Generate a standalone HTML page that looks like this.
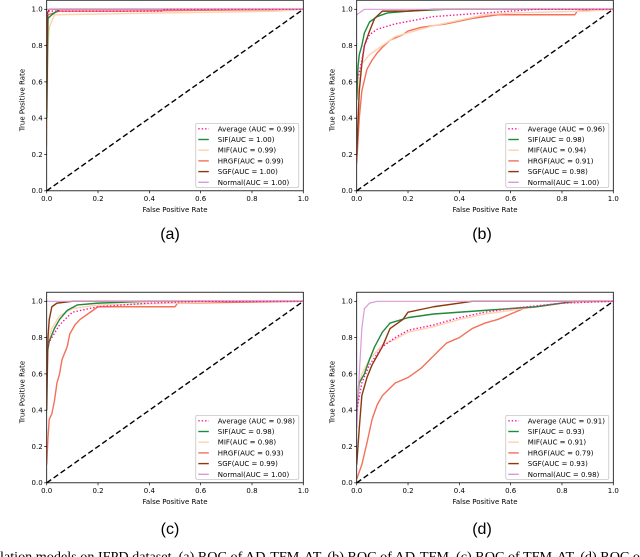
<!DOCTYPE html>
<html><head><meta charset="utf-8"><style>
html,body{margin:0;padding:0;background:#fff;width:640px;height:557px;overflow:hidden}
svg{display:block;font-family:"DejaVu Sans","Liberation Sans",sans-serif}
</style></head><body>
<svg id="fig" width="640" height="557" viewBox="0 0 640 557" xmlns="http://www.w3.org/2000/svg"></svg>
<script>
const seriesNames = ["Average","SIF","MIF","HRGF","SGF","Normal"];
const seriesColors = ["#ff1493","#1e8a3a","#ffd2b0","#f4705a","#8b3a0f","#d99ad9"];
const xTicks = [0,0.2,0.4,0.6,0.8,1.0];
const yTicks = [0,0.2,0.4,0.6,0.8,1.0];
const panelLabels = ["(a)","(b)","(c)","(d)"];
const aucA = [0.99,1.00,0.99,0.99,1.00,1.00];
const aucB = [0.96,0.98,0.94,0.91,0.98,1.00];
const aucC = [0.98,0.98,0.98,0.93,0.99,1.00];
const aucD = [0.91,0.93,0.91,0.79,0.93,0.98];
const aAvgX=[0,0.005,0.01,0.45,0.46,1], aAvgY=[0.95,0.98,0.99,0.99,1,1];
const aSifX=[0,0.005,0.02,0.05,1], aSifY=[0.4,0.95,0.97,1,1];
const aMifX=[0,0.005,0.01,0.03,0.9,1], aMifY=[0.25,0.8,0.9,0.97,0.99,1];
const aHrgX=[0,0.005,0.05,0.3,1], aHrgY=[0.4,0.97,0.99,0.99,1];
const aSgfX=[0,0.003,0.01,1], aSgfY=[0.43,0.98,1,1];
const aNorX=[0,1], aNorY=[1,1];
const bAvgX=[0,0.01,0.02,0.03,0.05,0.08,0.15,0.3,0.5,0.7,1], bAvgY=[0.6,0.65,0.72,0.8,0.86,0.89,0.92,0.96,0.98,1,1];
const bSifX=[0,0.005,0.01,0.02,0.03,0.05,0.08,0.12,0.2,0.35,1], bSifY=[0.5,0.68,0.75,0.8,0.87,0.93,0.96,0.98,0.99,1,1];
const bMifX=[0,0.01,0.02,0.05,0.1,0.15,0.2,0.3,0.4,0.5,0.6,0.9,1], bMifY=[0.5,0.6,0.7,0.75,0.8,0.85,0.87,0.91,0.94,0.97,0.98,0.99,1];
const bHrgX=[0,0.01,0.02,0.04,0.06,0.08,0.1,0.13,0.18,0.2,0.25,0.35,0.45,0.55,0.85,0.86,1], bHrgY=[0.15,0.4,0.55,0.67,0.72,0.76,0.79,0.83,0.86,0.88,0.9,0.92,0.95,0.97,0.97,0.99,1];
const bSgfX=[0,0.01,0.02,0.03,0.05,0.07,0.1,0.2,0.3,1], bSgfY=[0.2,0.55,0.7,0.8,0.88,0.95,0.99,0.99,1,1];
const bNorX=[0,0.01,0.03,1], bNorY=[0.97,0.98,1,1];
const cAvgX=[0,0.02,0.05,0.1,0.2,0.4,0.6,1], cAvgY=[0.75,0.8,0.87,0.94,0.97,0.99,1,1];
const cSifX=[0,0.01,0.03,0.05,0.08,0.12,0.2,0.4,1], cSifY=[0.7,0.78,0.85,0.9,0.95,0.98,0.99,1,1];
const cMifX=[0,0.02,0.05,0.1,0.2,0.5,0.7,1], cMifY=[0.75,0.85,0.92,0.96,0.98,0.99,1,1];
const cHrgX=[0,0.005,0.01,0.02,0.03,0.04,0.05,0.06,0.08,0.09,0.11,0.13,0.16,0.2,0.5,0.51,1], cHrgY=[0.1,0.25,0.35,0.38,0.45,0.55,0.6,0.68,0.75,0.82,0.87,0.9,0.93,0.97,0.97,0.99,1];
const cSgfX=[0,0.005,0.01,0.02,0.04,0.1,1], cSgfY=[0.4,0.8,0.9,0.97,0.99,1,1];
const cNorX=[0,1], cNorY=[1,1];
const dAvgX=[0,0.02,0.05,0.1,0.15,0.2,0.3,0.4,0.5,0.6,0.8,1], dAvgY=[0.4,0.55,0.65,0.75,0.8,0.84,0.87,0.91,0.94,0.96,0.99,1];
const dSifX=[0,0.01,0.03,0.05,0.07,0.1,0.13,0.2,0.3,0.5,0.7,0.85,1], dSifY=[0.4,0.55,0.6,0.68,0.75,0.83,0.88,0.91,0.93,0.95,0.97,1,1];
const dMifX=[0,0.02,0.05,0.1,0.15,0.2,0.3,0.4,0.5,0.6,0.8,1], dMifY=[0.5,0.6,0.68,0.76,0.79,0.83,0.86,0.9,0.93,0.95,0.99,1];
const dHrgX=[0,0.02,0.04,0.06,0.08,0.1,0.15,0.2,0.25,0.3,0.35,0.4,0.45,0.5,0.55,0.6,0.65,0.75,0.85,1], dHrgY=[0.02,0.1,0.22,0.35,0.43,0.48,0.55,0.58,0.63,0.7,0.77,0.8,0.85,0.88,0.9,0.93,0.96,0.98,1,1];
const dSgfX=[0,0.01,0.02,0.04,0.06,0.1,0.13,0.18,0.2,0.3,0.45,1], dSgfY=[0.1,0.3,0.48,0.58,0.65,0.75,0.85,0.9,0.94,0.97,1,1];
const dNorX=[0,0.01,0.02,0.03,0.05,0.08,1], dNorY=[0.3,0.6,0.85,0.96,0.99,1,1];

const panels=[
 {ox:46.7,oy:9.3,auc:aucA,xs:[aAvgX,aSifX,aMifX,aHrgX,aSgfX,aNorX],ys:[aAvgY,aSifY,aMifY,aHrgY,aSgfY,aNorY],cap:[170,233]},
 {ox:356.7,oy:9.3,auc:aucB,xs:[bAvgX,bSifX,bMifX,bHrgX,bSgfX,bNorX],ys:[bAvgY,bSifY,bMifY,bHrgY,bSgfY,bNorY],cap:[482,233]},
 {ox:46.7,oy:301.3,auc:aucC,xs:[cAvgX,cSifX,cMifX,cHrgX,cSgfX,cNorX],ys:[cAvgY,cSifY,cMifY,cHrgY,cSgfY,cNorY],cap:[170,528]},
 {ox:356.7,oy:301.3,auc:aucD,xs:[dAvgX,dSifX,dMifX,dHrgX,dSgfX,dNorX],ys:[dAvgY,dSifY,dMifY,dHrgY,dSgfY,dNorY],cap:[482,528]}
];
const W=256.6,H=181.5;
const NS="http://www.w3.org/2000/svg";
const svg=document.getElementById('fig');
function mk(tag,attrs,parent,text){const e=document.createElementNS(NS,tag);for(const k in attrs)e.setAttribute(k,attrs[k]);if(text!==undefined)e.textContent=text;(parent||svg).appendChild(e);return e;}
const draw=[3,2,1,4,5,0];
panels.forEach((p,pi)=>{
  const g=mk('g',{});
  
  
  const sx=v=>p.ox+v*W, sy=v=>p.oy+(1-v)*H;
  const clipId='clip'+pi;
  const cp=mk('clipPath',{id:clipId},g);
  mk('rect',{x:p.ox,y:sy(1.05),width:W,height:H*1.05},cp);
  const diag=mk('line',{x1:sx(0),y1:sy(0),x2:sx(1),y2:sy(1),stroke:'#000','stroke-width':1.4,'stroke-dasharray':'5.5,3'},g);
  
  
  draw.forEach(si=>{
    const xs=p.xs[si],ys=p.ys[si];
    const d=xs.map((x,i)=>(i?'L':'M')+sx(x).toFixed(2)+','+sy(ys[i]).toFixed(2)).join('');
    const attrs={d:d,fill:'none',stroke:seriesColors[si],'stroke-width':si===5?1.2:1.4,'clip-path':'url(#'+clipId+')','stroke-linejoin':'round'};
    if(si===0){attrs['stroke-dasharray']='1.4,2';}
    const path=mk('path',attrs,g);
    
    
  });
  const frame=mk('rect',{x:p.ox,y:sy(1.05),width:W,height:H*1.05,fill:'none',stroke:'#000','stroke-width':0.8},g);
  
  
  xTicks.forEach(t=>{
    mk('line',{x1:sx(t),x2:sx(t),y1:sy(0),y2:sy(0)+2.5,stroke:'#000','stroke-width':0.7},g);
    const tl=mk('text',{x:sx(t),y:sy(0)+10,'font-size':7,'text-anchor':'middle'},g,t.toFixed(1));
    
    
  });
  yTicks.forEach(t=>{
    mk('line',{x1:p.ox-2.5,x2:p.ox,y1:sy(t),y2:sy(t),stroke:'#000','stroke-width':0.7},g);
    const tl=mk('text',{x:p.ox-4,y:sy(t)+2.4,'font-size':7,'text-anchor':'end'},g,t.toFixed(1));
    
    
  });
  const xt=mk('text',{x:p.ox+W/2,y:sy(0)+21,'font-size':7,'text-anchor':'middle'},g,'False Positive Rate');
  
  
  const yt=mk('text',{x:0,y:0,'font-size':7,'text-anchor':'middle',transform:'translate('+(p.ox-22)+','+(p.oy+H/2)+') rotate(-90)'},g,'True Positive Rate');
  
  
  const lx=p.ox+W-107.5, ly=p.oy+H-67.5;
  const lg=mk('g',{},g);
  
  
  mk('rect',{x:lx,y:ly,width:103,height:64,fill:'#fff',stroke:'#bbb','stroke-width':0.7,rx:1.5},lg);
  seriesNames.forEach((n,si)=>{
    const yy=ly+5.5+si*10.7;
    const la={x1:lx+2.5,x2:lx+13,y1:yy,y2:yy,stroke:seriesColors[si],'stroke-width':1.4};
    if(si===0)la['stroke-dasharray']='1.4,2';
    mk('line',la,lg);
    const label=si===0?'Average (AUC = '+p.auc[si].toFixed(2)+')':n+'(AUC = '+p.auc[si].toFixed(2)+')';
    const te=mk('text',{x:lx+22,y:yy+2.5,'font-size':7},lg,label);
    
    
  });
  const cap=mk('text',{x:p.cap[0],y:p.cap[1]+6,'font-size':16,'text-anchor':'middle','font-family':'Liberation Sans, sans-serif'},svg,panelLabels[pi]);
  
  
});
const bt=mk('text',{x:0,y:561,'font-size':14,'font-family':'Liberation Serif, serif',textLength:640,lengthAdjust:'spacingAndGlyphs'},svg,'lation models on IFPD dataset. (a) ROC of AD-TFM-AT, (b) ROC of AD-TFM, (c) ROC of TFM-AT, (d) ROC o');


</script>
</body></html>
